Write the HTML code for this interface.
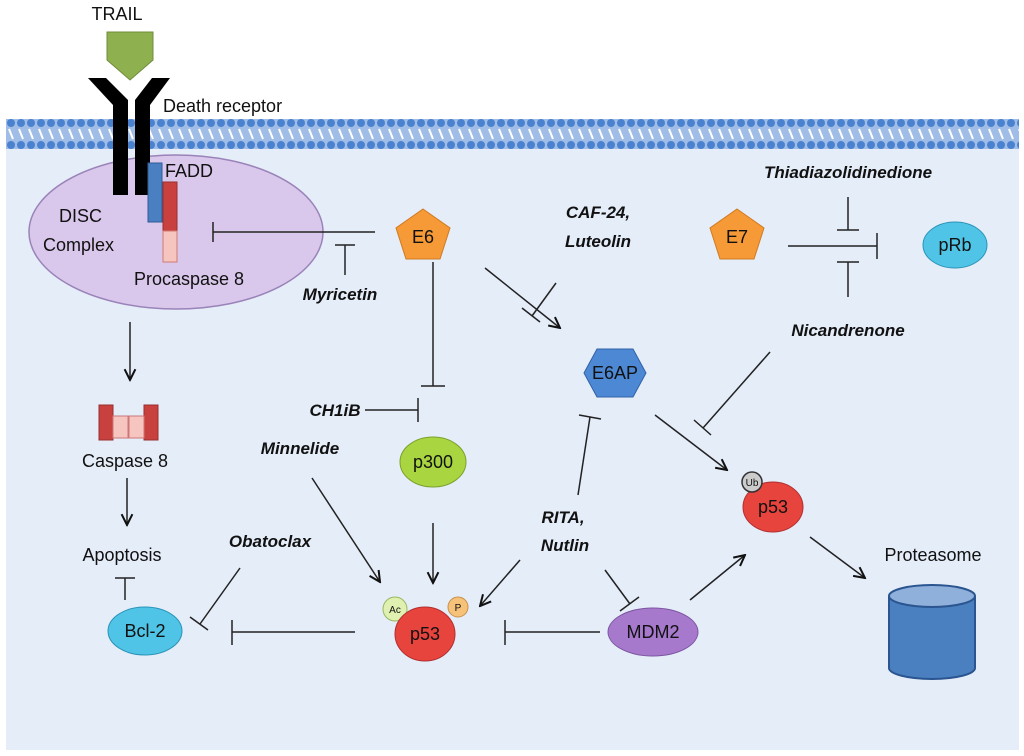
<!DOCTYPE html>
<html><head><meta charset="utf-8"><style>
html,body{margin:0;padding:0;background:#fff;}
svg{display:block}
text{font-family:"Liberation Sans",sans-serif;fill:#111}
.bi{font-weight:bold;font-style:italic;font-size:17px}
.n{font-size:18px}
</style></head><body>
<svg width="1024" height="756" viewBox="0 0 1024 756" xmlns="http://www.w3.org/2000/svg">
<defs>
<pattern id="mem" x="6" y="119" width="10" height="30" patternUnits="userSpaceOnUse">
<rect width="10" height="30" fill="#9fbde6"/>
<circle cx="5" cy="4" r="4" fill="#4a82d0"/>
<circle cx="5" cy="26" r="4" fill="#4a82d0"/>
<line x1="3" y1="10" x2="7" y2="20" stroke="#fff" stroke-width="2"/>
</pattern>
<marker id="ar" viewBox="0 0 10 10" refX="9" refY="5" markerWidth="9" markerHeight="9" orient="auto"><path d="M1,1 L9,5 L1,9" fill="none" stroke="#111" stroke-width="1.5"/></marker>
</defs>
<rect x="6" y="140" width="1013" height="610" fill="#e5edf9"/>
<rect x="6" y="119" width="1013" height="30" fill="url(#mem)"/>
<text x="117" y="20" text-anchor="middle" class="n">TRAIL</text>
<polygon points="107,32 153,32 153,60 130,80 107,60" fill="#8fb04f" stroke="#6f8c3a"/>
<ellipse cx="176" cy="232" rx="147" ry="77" fill="#d9c8ec" stroke="#9a83b8" stroke-width="1.5"/>
<polygon points="88,78 106,78 128,100 128,195 113,195 113,105" fill="#000"/>
<polygon points="170,78 152,78 135,100 135,195 150,195 150,105" fill="#000"/>
<rect x="148" y="163" width="14" height="59" fill="#4a7fc1" stroke="#2f5d96"/>
<rect x="163" y="182" width="14" height="49" fill="#c9413e" stroke="#963030"/>
<rect x="163" y="231" width="14" height="31" fill="#f6c5c0" stroke="#d07a70"/>
<text x="163" y="112" class="n">Death receptor</text>
<text x="165" y="177" class="n">FADD</text>
<text x="59" y="222" class="n">DISC</text>
<text x="43" y="251" class="n">Complex</text>
<text x="134" y="285" class="n">Procaspase 8</text>
<g stroke="#222" stroke-width="1.5" fill="none">
<line x1="375" y1="232" x2="213" y2="232"/><line x1="213" y1="222" x2="213" y2="242"/>
<line x1="345" y1="275" x2="345" y2="245"/><line x1="335" y1="245" x2="355" y2="245"/>
<line x1="130" y1="322" x2="130" y2="380" marker-end="url(#ar)"/>
<line x1="127" y1="478" x2="127" y2="525" marker-end="url(#ar)"/>
<line x1="125" y1="600" x2="125" y2="578"/><line x1="115" y1="578" x2="135" y2="578"/>
<line x1="240" y1="568" x2="200" y2="624"/><line x1="190" y1="617" x2="208" y2="630"/>
<line x1="355" y1="632" x2="232" y2="632"/><line x1="232" y1="620" x2="232" y2="645"/>
<line x1="600" y1="632" x2="505" y2="632"/><line x1="505" y1="620" x2="505" y2="645"/>
<line x1="312" y1="478" x2="380" y2="582" marker-end="url(#ar)"/>
<line x1="433" y1="523" x2="433" y2="583" marker-end="url(#ar)"/>
<line x1="433" y1="262" x2="433" y2="386"/><line x1="421" y1="386" x2="445" y2="386"/>
<line x1="365" y1="410" x2="418" y2="410"/><line x1="418" y1="398" x2="418" y2="422"/>
<line x1="485" y1="268" x2="560" y2="328" marker-end="url(#ar)"/>
<line x1="556" y1="283" x2="532" y2="316"/><line x1="522" y1="308" x2="540" y2="322"/>
<line x1="578" y1="495" x2="590" y2="417"/><line x1="579" y1="415" x2="601" y2="419"/>
<line x1="520" y1="560" x2="480" y2="606" marker-end="url(#ar)"/>
<line x1="605" y1="570" x2="630" y2="604"/><line x1="620" y1="611" x2="639" y2="597"/>
<line x1="690" y1="600" x2="745" y2="555" marker-end="url(#ar)"/>
<line x1="655" y1="415" x2="727" y2="470" marker-end="url(#ar)"/>
<line x1="770" y1="352" x2="703" y2="428"/><line x1="694" y1="420" x2="711" y2="435"/>
<line x1="810" y1="537" x2="865" y2="578" marker-end="url(#ar)"/>
<line x1="788" y1="246" x2="877" y2="246"/><line x1="877" y1="233" x2="877" y2="259"/>
<line x1="848" y1="197" x2="848" y2="230"/><line x1="837" y1="230" x2="859" y2="230"/>
<line x1="848" y1="297" x2="848" y2="262"/><line x1="837" y1="262" x2="859" y2="262"/>
</g>
<text x="340" y="300" class="bi" text-anchor="middle">Myricetin</text>
<rect x="99" y="405" width="14" height="35" fill="#c9413e" stroke="#963030"/>
<rect x="144" y="405" width="14" height="35" fill="#c9413e" stroke="#963030"/>
<rect x="113" y="416" width="15" height="22" fill="#f6c5c0" stroke="#c77"/>
<rect x="129" y="416" width="15" height="22" fill="#f6c5c0" stroke="#c77"/>
<text x="125" y="467" class="n" text-anchor="middle">Caspase 8</text>
<text x="122" y="561" class="n" text-anchor="middle">Apoptosis</text>
<ellipse cx="145" cy="631" rx="37" ry="24" fill="#4fc4e6" stroke="#2b94b8"/>
<text x="145" y="637" class="n" text-anchor="middle">Bcl-2</text>
<text x="270" y="547" class="bi" text-anchor="middle">Obatoclax</text>
<text x="300" y="454" class="bi" text-anchor="middle">Minnelide</text>
<text x="335" y="416" class="bi" text-anchor="middle">CH1iB</text>
<circle cx="395" cy="609" r="12" fill="#dff0b0" stroke="#9ab860"/>
<text x="395" y="613" font-size="10" text-anchor="middle">Ac</text>
<circle cx="458" cy="607" r="10" fill="#f6c27a" stroke="#c8904a"/>
<text x="458" y="611" font-size="10" text-anchor="middle">P</text>
<ellipse cx="425" cy="634" rx="30" ry="27" fill="#e8443e" stroke="#b03030"/>
<text x="425" y="640" class="n" text-anchor="middle">p53</text>
<ellipse cx="653" cy="632" rx="45" ry="24" fill="#a679cc" stroke="#7c55a0"/>
<text x="653" y="638" class="n" text-anchor="middle">MDM2</text>
<ellipse cx="433" cy="462" rx="33" ry="25" fill="#a9d640" stroke="#7aa22c"/>
<text x="433" y="468" class="n" text-anchor="middle">p300</text>
<polygon points="423,209 450,228 440,259 406,259 396,228" fill="#f59a36" stroke="#d07a20"/>
<text x="423" y="243" class="n" text-anchor="middle">E6</text>
<polygon points="737,209 764,228 754,259 720,259 710,228" fill="#f59a36" stroke="#d07a20"/>
<text x="737" y="243" class="n" text-anchor="middle">E7</text>
<text x="598" y="218" class="bi" text-anchor="middle">CAF-24,</text>
<text x="598" y="247" class="bi" text-anchor="middle">Luteolin</text>
<polygon points="584,373 597,349 633,349 646,373 633,397 597,397" fill="#4d88d4" stroke="#2f62a8"/>
<text x="615" y="379" class="n" text-anchor="middle">E6AP</text>
<text x="563" y="523" class="bi" text-anchor="middle">RITA,</text>
<text x="565" y="551" class="bi" text-anchor="middle">Nutlin</text>
<text x="848" y="178" class="bi" text-anchor="middle">Thiadiazolidinedione</text>
<text x="848" y="336" class="bi" text-anchor="middle">Nicandrenone</text>
<ellipse cx="955" cy="245" rx="32" ry="23" fill="#4fc4e6" stroke="#2b94b8"/>
<text x="955" y="251" class="n" text-anchor="middle">pRb</text>
<ellipse cx="773" cy="507" rx="30" ry="25" fill="#e8443e" stroke="#b03030"/>
<text x="773" y="513" class="n" text-anchor="middle">p53</text>
<circle cx="752" cy="482" r="10" fill="#ccc" stroke="#333" stroke-width="1.5"/>
<text x="752" y="486" font-size="10" text-anchor="middle">Ub</text>
<text x="933" y="561" class="n" text-anchor="middle">Proteasome</text>
<path d="M889,596 L889,668 A43,11 0 0 0 975,668 L975,596" fill="#4a80c0" stroke="#2a5590" stroke-width="2"/>
<ellipse cx="932" cy="596" rx="43" ry="11" fill="#8fb0da" stroke="#2a5590" stroke-width="2"/>
</svg>
</body></html>
